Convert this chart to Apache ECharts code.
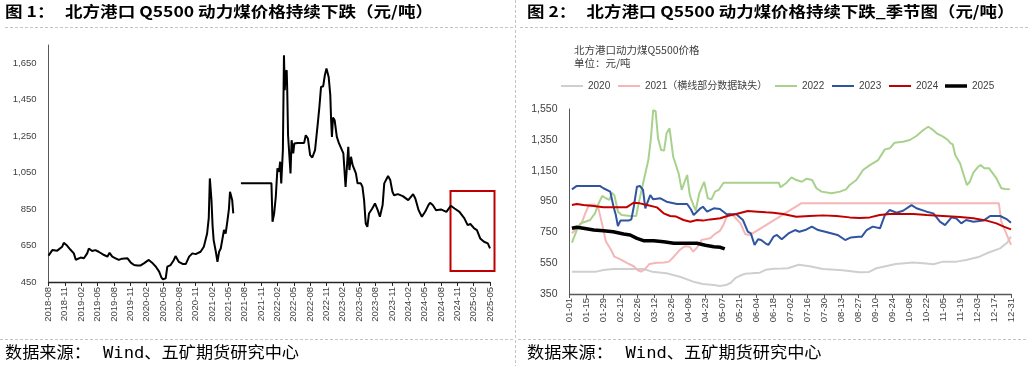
<!DOCTYPE html>
<html><head><meta charset="utf-8">
<script src="https://cdn.jsdelivr.net/npm/echarts@6/dist/echarts.min.js"></script>
<style>html,body{margin:0;padding:0;background:#fff}#c{width:1028px;height:366px}</style>
</head><body><div id="c"></div>
<script>
// ================= DATA =================
// Left chart: x = months since 2018-08, y = price (元/吨); '-' = gap in data
const coalPrice = [[0,595],[0.7,625],[1.6,622],[2.5,643],[2.8,665],[3.4,650],[4.0,628],[4.65,607],[5.0,572],[5.9,584],[6.5,580],[7.1,607],[7.4,634],[8.0,620],[8.6,625],[9.2,616],[10.2,598],[10.8,589],[11.2,610],[11.7,589],[12.3,580],[12.9,571],[13.5,578],[14.5,580],[15.1,556],[15.7,543],[16.3,540],[16.9,541],[17.5,552],[18.4,571],[19.0,556],[19.7,534],[20.3,507],[20.7,476],[21.0,465],[21.5,470],[21.8,534],[22.4,543],[23.0,571],[23.3,592],[23.9,561],[24.6,549],[25.2,549],[25.8,589],[26.4,607],[27.0,603],[27.9,616],[28.5,643],[29.1,716],[29.4,800],[29.6,1018],[29.75,960],[29.9,899],[30.1,760],[30.3,680],[30.7,616],[31.0,561],[31.3,616],[31.6,634],[32.2,735],[32.4,740],[32.5,716],[32.8,780],[33.1,850],[33.3,945],[33.6,945],[33.7,900],[33.9,826],
[34.6,'-'],
[35.3,991],[40.9,991],[41.1,780],[41.4,826],[41.7,917],[42.0,1073],[42.3,1055],[42.5,1110],[42.7,991],[43.0,1173],[43.2,1694],[43.35,1502],[43.5,1600],[43.7,1612],[43.8,1502],[43.95,1255],[44.2,1246],[44.4,1046],[44.6,1228],[44.9,1155],[45.1,1210],[45.7,1213],[46.9,1213],[47.2,1255],[47.6,1237],[48.0,1146],[48.4,1133],[48.9,1173],[49.4,1319],[49.7,1411],[50.0,1520],[50.4,1524],[50.7,1584],[51.0,1621],[51.4,1575],[51.7,1475],[51.85,1337],[52.0,1246],[52.2,1352],[52.5,1337],[52.9,1246],[53.3,1210],[53.6,1219],[54.1,1155],[54.5,972],[55.0,1191],[55.2,1064],[55.5,1137],[55.8,1091],[56.4,1046],[56.7,991],[57.3,991],[57.6,972],[57.9,899],[58.2,771],[58.5,753],[58.8,826],[59.1,817],[59.4,853],[59.9,881],[60.4,844],[60.8,808],[61.3,872],[61.6,991],[61.9,1000],[62.3,1031],[62.7,1009],[63.1,945],[63.4,926],[64.1,932],[65.0,921],[66.0,899],[66.9,932],[67.3,908],[67.9,844],[68.5,808],[69.1,835],[69.7,872],[70.0,885],[70.5,872],[71.1,844],[72.0,848],[73.0,835],[73.8,868],[74.5,853],[75.4,835],[76.3,799],[76.9,762],[77.4,768],[78.1,744],[78.6,735],[79.2,689],[79.9,671],[80.6,662],[81.0,634]];
const leftTickLabelStep = 3; // months between x labels

// Right chart (seasonal): x = day of year (0 = 01-01), y = price
const seasonNames = ['2020','2021（横线部分数据缺失）','2022','2023','2024','2025'];
const s2020 = [[2,495],[22,495],[28,506],[36,512],[61,512],[68,495],[80,484],[91,462],[102,430],[110,415],[119,408],[124,402],[129,408],[133,423],[137,455],[141,470],[145,482],[150,484],[157,488],[162,508],[168,514],[175,515],[180,517],[189,540],[198,530],[209,512],[225,504],[239,491],[247,493],[253,517],[269,545],[283,554],[292,550],[300,543],[308,560],[319,560],[327,571],[338,592],[344,614],[355,646],[361,684],[364,722]];
const s2021 = [[2,744],[6,776],[10,810],[13,873],[16,927],[21,930],[24,900],[27,800],[30,690],[34,640],[37,592],[42,575],[48,549],[53,530],[56,505],[59,495],[62,510],[66,545],[72,553],[78,555],[82,560],[86,592],[91,636],[95,660],[99,657],[102,625],[105,650],[109,701],[116,711],[120,740],[124,760],[127,800],[129,841],[132,873],[136,851],[141,808],[145,737],[149,733],[191,938],[354,938],[356,819],[364,668]];
const s2022 = [[2,683],[6,765],[9,808],[13,819],[17,830],[21,873],[24,938],[27,986],[30,971],[33,960],[35,1007],[37,990],[40,884],[43,862],[50,856],[55,856],[57,938],[60,1046],[63,1150],[65,1219],[67,1349],[69,1543],[71,1536],[73,1360],[75.5,1284],[78,1280],[80,1392],[82.5,1425],[85.5,1240],[90,1132],[92.5,1025],[94,1030],[97,1122],[99,1000],[100.5,960],[104,890],[107,1003],[111,1078],[114,971],[117,964],[120,1014],[123,1025],[127,1072],[172.5,1072],[174,1042],[179,1072],[183,1107],[187,1089],[191.6,1078],[195.6,1098],[200,1089],[203.6,1036],[207.8,1014],[216,1003],[223,1014],[228,1029],[231,1057],[236.5,1089],[242,1154],[247.6,1186],[254.5,1219],[260,1288],[264,1295],[268,1331],[275,1338],[280.6,1349],[286,1375],[291.7,1414],[295.8,1435],[299,1418],[302.7,1392],[308,1371],[312,1349],[314,1328],[316,1320],[318,1252],[322,1198],[325,1122],[327.6,1057],[330,1078],[333,1137],[337,1176],[339,1186],[342,1165],[346,1165],[352,1100],[356,1036],[359,1031],[363,1029]];
const s2023 = [[2,1029],[6,1051],[25,1051],[28,1036],[33.6,1014],[36.3,916],[38.2,862],[39.9,791],[42,826],[48.7,826],[51,834],[53,916],[55.6,1046],[58,1051],[60.6,1025],[62.5,906],[64,938],[66.6,992],[69,964],[75,971],[80,949],[88.6,934],[97,934],[100,900],[102.4,862],[108,906],[110,916],[113.5,884],[119,906],[124,901],[129.3,869],[137.5,867],[143,830],[147,754],[149.5,743],[152.6,668],[155.5,705],[158,700],[161.5,679],[164,668],[168.2,722],[171,733],[175,705],[180.5,743],[186,765],[189.5,754],[194.3,765],[199.8,787],[205,765],[210.8,754],[216.3,743],[221,733],[227.3,700],[232,717],[238.3,722],[241,722],[245,765],[250,787],[256,776],[260,862],[264,895],[269.6,877],[275,890],[282,927],[286,906],[294.5,884],[300,873],[305.4,819],[309.6,797],[315,847],[319,840],[323,808],[327,830],[333,819],[341.3,826],[346.8,856],[355,856],[360.8,834],[364,812]];
const s2024 = [[2,927],[6,934],[11.5,927],[20,921],[28,912],[36,912],[47,912],[52.8,942],[58,938],[64,927],[72,912],[77.6,873],[83,856],[88,852],[94,830],[99.6,819],[105,830],[110,826],[116,834],[124.4,841],[130,856],[137.5,869],[147,888],[155,884],[162,880],[168,877],[176,869],[187,851],[198,856],[209,860],[220,856],[231,847],[239,843],[247.6,847],[255.8,862],[264,869],[283.5,869],[294.5,862],[308,856],[322,849],[333,841],[344,826],[352,808],[358,787],[364,769]];
const s2025 = [[2,776],[6,783],[11.5,776],[20,765],[28,761],[36,754],[44.6,739],[50,733],[55.6,711],[61,696],[69.4,696],[77.6,689],[86,679],[94,679],[105,679],[112,666],[119,657],[124.4,653],[128,642]];
const seasonData = [s2020, s2021, s2022, s2023, s2024, s2025];
const seasonColors = ['#cfcfcf','#f4b6b6','#a9d18e','#2f55a0','#c00000','#000000'];
const seasonWidths = [2,2,2,2,2,3.5];

// ================= RENDER =================
const chart = echarts.init(document.getElementById('c'), null, {renderer:'canvas'});
const CJK = '"Noto Sans CJK SC"';
const LAT = '"Liberation Sans", "Noto Sans CJK SC"';

function measure(text, weight, size, family){
  const ctx = document.createElement('canvas').getContext('2d');
  ctx.font = weight + ' ' + size + 'px ' + family;
  return ctx.measureText(text).width;
}
const t1 = '北方港口 Q5500 动力煤价格持续下跌（元/吨）';
const t2 = '北方港口 Q5500 动力煤价格持续下跌_季节图（元/吨）';
const sc1 = 368 / measure(t1,'bold',15,CJK);
const sc2 = 428 / measure(t2,'bold',15,CJK);
const src = 'Wind、五矿期货研究中心';
const srcFam = '"DejaVu Sans Mono", "Noto Sans CJK SC"';
const scs = 196 / measure(src,'normal',16,srcFam);

function txt(x, y, text, opt){
  return Object.assign({type:'text', x:x, y:y, silent:true,
    style:{text:text, fill:opt.fill||'#000', fontSize:opt.size, fontWeight:opt.weight||'normal',
      fontFamily:opt.family||CJK, verticalAlign:'middle', textAlign:'left'}},
    opt.scale ? {scaleX:opt.scale} : {});
}
function dash(x1,y1,x2,y2){
  return {type:'line', silent:true, shape:{x1:x1,y1:y1,x2:x2,y2:y2},
    style:{stroke:'#c4c4c4', lineWidth:1, lineDash:[3,2]}};
}

function monthLabel(v){
  const t = 7 + Math.round(v);
  const y = 2018 + Math.floor(t/12), m = t % 12 + 1;
  return y + '-' + (m<10?'0':'') + m;
}
function dayLabel(v){
  const d = new Date(Date.UTC(2023,0,1+Math.round(v)));
  const m = d.getUTCMonth()+1, dd = d.getUTCDate();
  return (m<10?'0':'')+m+'-'+(dd<10?'0':'')+dd;
}
const thousands = v => v.toLocaleString('en-US');

const legendLefts = [561, 618, 775, 832, 889, 945];

const option = {
  animation:false,
  backgroundColor:'#fff',
  grid:[
    {left:48.5, top:45, width:441.5, height:237},
    {left:569.5, top:109, width:441.5, height:185}
  ],
  xAxis:[
    {type:'value', gridIndex:0, min:0, max:81, interval:leftTickLabelStep,
      axisLine:{lineStyle:{color:'#262626', width:1.3}},
      axisTick:{show:true, length:4, lineStyle:{color:'#262626'}},
      splitLine:{show:false},
      axisLabel:{rotate:90, margin:5, fontSize:9.5, color:'#404040', fontFamily:LAT, formatter:monthLabel}},
    {type:'value', gridIndex:1, min:0, max:364, interval:14,
      axisLine:{lineStyle:{color:'#595959', width:1.3}},
      axisTick:{show:true, length:4, lineStyle:{color:'#595959'}},
      splitLine:{show:false},
      axisLabel:{rotate:90, margin:4, fontSize:9.5, color:'#404040', fontFamily:LAT, formatter:dayLabel}}
  ],
  yAxis:[
    {type:'value', gridIndex:0, min:450, max:1750, interval:200,
      axisLine:{show:true, lineStyle:{color:'#595959'}},
      axisTick:{show:false}, splitLine:{show:false},
      axisLabel:{margin:12, fontSize:9.5, color:'#404040', fontFamily:LAT, showMaxLabel:false, formatter:thousands}},
    {type:'value', gridIndex:1, min:350, max:1550, interval:200,
      axisLine:{show:true, lineStyle:{color:'#595959'}},
      axisTick:{show:false}, splitLine:{show:false},
      axisLabel:{margin:12, fontSize:10.5, color:'#404040', fontFamily:LAT, formatter:thousands}}
  ],
  legend: seasonNames.map((n,i)=>({
    show:true, orient:'horizontal', data:[n], left:legendLefts[i], top:81,
    padding:0, icon:'rect', itemWidth:22, itemHeight:seasonWidths[i], itemGap:0, selectedMode:false,
    textStyle:{fontSize:10, color:'#404040', fontFamily:LAT}
  })),
  series:[
    {type:'line', name:'北方港口Q5500', xAxisIndex:0, yAxisIndex:0, data:coalPrice,
      showSymbol:false, symbol:'none', connectNulls:false,
      lineStyle:{color:'#000', width:2}, silent:true}
  ].concat(seasonData.map((d,i)=>({
    type:'line', name:seasonNames[i], xAxisIndex:1, yAxisIndex:1, data:d,
    symbol:'none', showSymbol:false, color:seasonColors[i],
    lineStyle:{color:seasonColors[i], width:seasonWidths[i]}, itemStyle:{color:seasonColors[i]}, silent:true
  }))),
  graphic:[
    txt(5, 11, '图 1：', {size:15, weight:'bold', scale:sc1}),
    txt(65, 11, t1, {size:15, weight:'bold', scale:sc1}),
    txt(527, 11, '图 2：', {size:15, weight:'bold', scale:sc2}),
    txt(586.5, 11, t2, {size:15, weight:'bold', scale:sc2}),
    dash(5, 27.5, 513, 27.5),
    dash(520, 27.5, 1028, 27.5),
    dash(0, 339.5, 513, 339.5),
    dash(518, 339.5, 1028, 339.5),
    dash(515.5, 0, 515.5, 366),
    txt(574, 50, '北方港口动力煤Q5500价格', {size:10.5, fill:'#404040'}),
    txt(574, 63.5, '单位：元/吨', {size:10.5, fill:'#404040'}),
    txt(5, 354, '数据来源：', {size:16, family:srcFam, scale:scs}),
    txt(103, 354, src, {size:16, family:srcFam, scale:scs}),
    txt(527, 354, '数据来源：', {size:16, family:srcFam, scale:scs}),
    txt(625.5, 354, src, {size:16, family:srcFam, scale:scs}),
    {type:'rect', silent:true, shape:{x:450.5, y:191, width:44, height:80},
      style:{fill:'none', stroke:'#c00000', lineWidth:2}}
  ]
};
chart.setOption(option);
</script></body></html>
